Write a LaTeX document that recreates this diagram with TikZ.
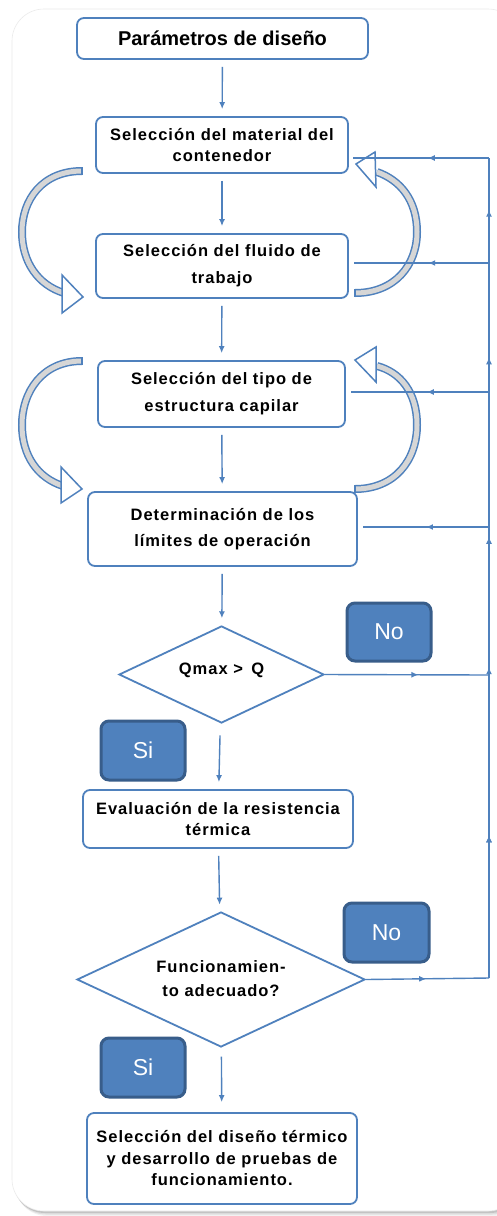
\documentclass[tikz,border=0pt]{standalone}
\usepackage{fontspec}
\setmainfont{Liberation Sans}
\newfontfamily\bodyfont{Liberation Sans}[LetterSpace=6]
\usetikzlibrary{shapes.geometric,arrows.meta,decorations.markings}
\definecolor{bblue}{RGB}{79,129,189}
\definecolor{dblue}{RGB}{56,93,138}
\definecolor{bandgray}{RGB}{214,214,214}
\begin{document}
\begin{tikzpicture}[x=1pt,y=-1pt,
  box/.style={draw=bblue, line width=1.8pt, rounded corners=7pt, fill=white, align=center, inner sep=0pt,
    font=\bodyfont\bfseries\fontsize{16.5}{21}\selectfont},
  dec/.style={diamond, draw=bblue, line width=1.8pt, fill=white, align=center, inner sep=0pt, aspect=2,
    font=\bodyfont\bfseries\fontsize{16.5}{24}\selectfont},
  tag/.style={fill=bblue, draw=dblue, line width=3pt, rounded corners=8pt, text=white, inner sep=0pt,
    font=\fontsize{23}{23}\selectfont},
  conn/.style={draw=bblue, line width=1.4pt, -{Latex[length=7pt,width=6pt]}, shorten <=7pt, shorten >=7pt},
  fb/.style={draw=bblue, line width=1.4pt},
  midarrow/.style={postaction={decorate}, decoration={markings, mark=at position #1 with {\arrow{Latex[length=7pt,width=6pt]}}}},
  band/.style={draw=bblue, line width=1.5pt, double=bandgray, double distance=5pt},
  head/.style={draw=bblue, line width=1.5pt, fill=white, line join=miter},
  bandcap/.style={draw=bblue, line width=1.5pt}
]
\useasboundingbox (0,0) rectangle (496,1216);
\fill[white] (0,0) rectangle (496,1216);
% card with shadow
\fill[black, opacity=0.05, rounded corners=32pt] (15,13) rectangle (526,1216);
\fill[black, opacity=0.08, rounded corners=32pt] (14,12) rectangle (524,1214.5);
\fill[black, opacity=0.12, rounded corners=32pt] (13,11) rectangle (522,1213);
\filldraw[fill=white, draw=black!8, line width=0.6pt, rounded corners=32pt] (12,9) rectangle (520,1211);

% nodes
\node[box, minimum width=291pt, minimum height=41pt, font=\bfseries\fontsize{20}{24}\selectfont] (b1) at (222.5,38.5) {Parámetros de diseño};
\node[box, minimum width=252pt, minimum height=56pt] (b2) at (222,145) {Selección del material del\\contenedor};
\node[box, minimum width=252pt, minimum height=64pt, font=\bodyfont\bfseries\fontsize{16.5}{27}\selectfont] (b3) at (222,266) {Selección del fluido de\\trabajo};
\node[box, minimum width=247pt, minimum height=66pt, font=\bodyfont\bfseries\fontsize{16.5}{27}\selectfont] (b4) at (221.5,394) {Selección del tipo de\\estructura capilar};
\node[box, minimum width=269pt, minimum height=74pt, font=\bodyfont\bfseries\fontsize{16.5}{26}\selectfont] (b5) at (222.5,529) {Determinación de los\\límites de operación};
\node[dec, minimum width=205pt, minimum height=97pt] (d1) at (221.5,674.5) {\raisebox{11pt}{Qmax > \,Q}};
\node[box, minimum width=270pt, minimum height=58pt] (b6) at (218,819) {Evaluación de la resistencia\\térmica};
\node[dec, minimum width=288pt, minimum height=135pt] (d2) at (221,979.5) {\raisebox{5pt}{\begin{tabular}{@{}c@{}}Funcionamien-\\to adecuado?\end{tabular}}};
\node[box, minimum width=270pt, minimum height=91pt, font=\bodyfont\bfseries\fontsize{16.5}{21.5}\selectfont] (b7) at (222,1158.5) {Selección del diseño térmico\\y desarrollo de pruebas de\\funcionamiento.};

\node[tag, minimum width=84pt, minimum height=58pt] (no1) at (389,632) {No};
\node[tag, minimum width=85pt, minimum height=59pt] (no2) at (386.5,932.5) {No};
\node[tag, minimum width=84pt, minimum height=59pt] (si1) at (143,750.5) {Si};
\node[tag, minimum width=84pt, minimum height=59pt] (si2) at (143,1067.5) {Si};

% main flow
\draw[conn] (b1) -- (b2);
\draw[conn] (b2) -- (b3);
\draw[conn] (b3) -- (b4);
\draw[conn] (b4) -- (b5);
\draw[conn] (b5) -- (d1);
\draw[conn, shorten <=12pt] (d1) -- (b6);
\draw[conn] (b6) -- (d2);
\draw[conn, shorten <=9pt, shorten >=10pt] (d2) -- (b7);

% curved block arrows
\draw[band] (82,171) .. controls (42,171) and (22,200) .. (22,232) .. controls (22,262) and (38,285) .. (64,293);
\draw[bandcap] (82,167) -- (82,175);
\draw[head] (62,275) -- (83,297) -- (62,313) -- cycle;

\draw[band] (355,293) .. controls (395,293) and (417,265) .. (417,232) .. controls (417,200) and (400,180) .. (377,172);
\draw[bandcap] (355,289) -- (355,297);
\draw[head] (375,152) -- (356,164) -- (376,187) -- cycle;

\draw[band] (82,361) .. controls (42,361) and (22,392) .. (22,425) .. controls (22,456) and (38,478) .. (63,486);
\draw[bandcap] (82,357) -- (82,365);
\draw[head] (61,467) -- (82,489) -- (61,503) -- cycle;

\draw[band] (355,489) .. controls (395,489) and (417,460) .. (417,425) .. controls (417,392) and (400,372) .. (377,366);
\draw[bandcap] (355,485) -- (355,493);
\draw[head] (376,347) -- (355,360) -- (376,382) -- cycle;

% feedback network
\coordinate (fbTop) at (489,158);
\coordinate (r2) at (489,263);
\coordinate (r3) at (489,392);
\coordinate (r4) at (489,527);
\coordinate (r5) at (489,675);
\coordinate (fbBot) at (489,978);

\draw[fb, midarrow=0.174, postaction={decorate, decoration={markings,
   mark=at position 0.379 with {\arrow{Latex[length=7pt,width=6pt]}},
   mark=at position 0.538 with {\arrow{Latex[length=7pt,width=6pt]}},
   mark=at position 0.757 with {\arrow{Latex[length=7pt,width=6pt]}},
   mark=at position 0.937 with {\arrow{Latex[length=7pt,width=6pt]}}}}] (fbBot) -- (fbTop);
\draw[fb, midarrow=0.45] (fbTop) -- ([xshift=4pt]b2.east |- fbTop);
\draw[fb, midarrow=0.45] (r2) -- ([xshift=5pt]b3.east |- r2);
\draw[fb, midarrow=0.45] (r3) -- ([xshift=5pt]b4.east |- r3);
\draw[fb, midarrow=0.5] (r4) -- ([xshift=5pt]b5.east |- r4);
\draw[fb, midarrow=0.57] (d1.east) -- (r5);
\draw[fb, midarrow=0.49] (d2.east) -- (fbBot);
\end{tikzpicture}
\end{document}
